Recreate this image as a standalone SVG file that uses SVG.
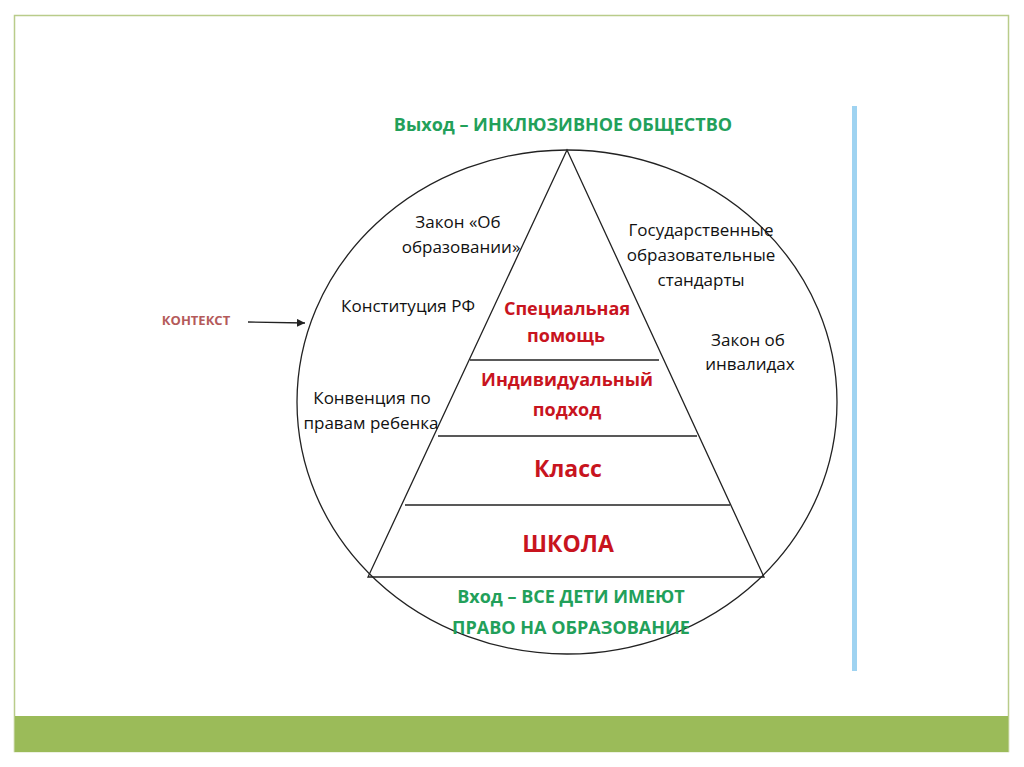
<svg xmlns="http://www.w3.org/2000/svg" width="1024" height="767" viewBox="0 0 1024 767">
<defs>
<style>
.t{font-family:"Open Sans","Liberation Sans",sans-serif;font-size:17px;fill:#111;text-anchor:middle}
.r{font-family:"Open Sans","Liberation Sans",sans-serif;font-size:18px;font-weight:bold;fill:#c8141e;text-anchor:middle}
.g{font-family:"Open Sans","Liberation Sans",sans-serif;font-size:18px;font-weight:bold;fill:#22a05a;text-anchor:middle}
.ln{stroke:#222;stroke-width:1.3;fill:none}
</style>
<marker id="ah" viewBox="0 0 10 10" refX="10" refY="5" markerWidth="8" markerHeight="8" orient="auto" markerUnits="userSpaceOnUse">
<path d="M0,0 L10,5 L0,10 z" fill="#222"/>
</marker>
</defs>
<rect width="1024" height="767" fill="#fff"/>
<rect x="14.5" y="15.5" width="994" height="736" fill="#fff" stroke="#b9cc8a" stroke-width="1.5"/>
<rect x="15" y="716" width="993" height="36" fill="#9bbb59"/>
<rect x="852" y="106" width="5" height="565" fill="#9fd3f1"/>
<g id="circle"><ellipse cx="567" cy="402" rx="270" ry="252" class="ln"/></g>
<g id="pyramid">
<polygon points="567,150 368,577 764,577" class="ln"/>
<line x1="470" y1="360" x2="659" y2="360" class="ln"/>
<line x1="438" y1="436" x2="697" y2="436" class="ln"/>
<line x1="405" y1="505" x2="730" y2="505" class="ln"/>
</g>
<g id="output"><text x="563" y="131" class="g">Выход – ИНКЛЮЗИВНОЕ ОБЩЕСТВО</text></g>
<g id="input">
<text x="571" y="603" class="g">Вход – ВСЕ ДЕТИ ИМЕЮТ</text>
<text x="571" y="634" class="g">ПРАВО НА ОБРАЗОВАНИЕ</text>
</g>
<g id="special"><text x="567" y="315" class="r">Специальная</text><text x="566" y="342" class="r">помощь</text></g>
<g id="individual"><text x="567" y="386" class="r">Индивидуальный</text><text x="567" y="416" class="r">подход</text></g>
<g id="class"><text x="568" y="477" class="r" style="font-size:23px">Класс</text></g>
<g id="school"><text x="568" y="552" class="r" style="font-size:23px">ШКОЛА</text></g>
<g id="law-edu"><text x="458" y="228" class="t">Закон «Об</text><text x="461" y="253" class="t">образовании»</text></g>
<g id="constitution"><text x="408" y="312" class="t">Конституция РФ</text></g>
<g id="convention"><text x="372" y="404" class="t">Конвенция по</text><text x="371" y="429" class="t">правам ребенка</text></g>
<g id="standards"><text x="701" y="236" class="t">Государственные</text><text x="701" y="261" class="t">образовательные</text><text x="701" y="286" class="t">стандарты</text></g>
<g id="law-disabled"><text x="748" y="346" class="t">Закон об</text><text x="750" y="370" class="t">инвалидах</text></g>
<g id="context"><text x="196" y="325" style="font-family:'Open Sans','Liberation Sans',sans-serif;font-size:13px;font-weight:bold;fill:#b45a5a;text-anchor:middle">КОНТЕКСТ</text></g>
<g id="connectors"><line x1="248" y1="322" x2="305" y2="323" stroke="#222" stroke-width="1.3" marker-end="url(#ah)"/></g>
</svg>
